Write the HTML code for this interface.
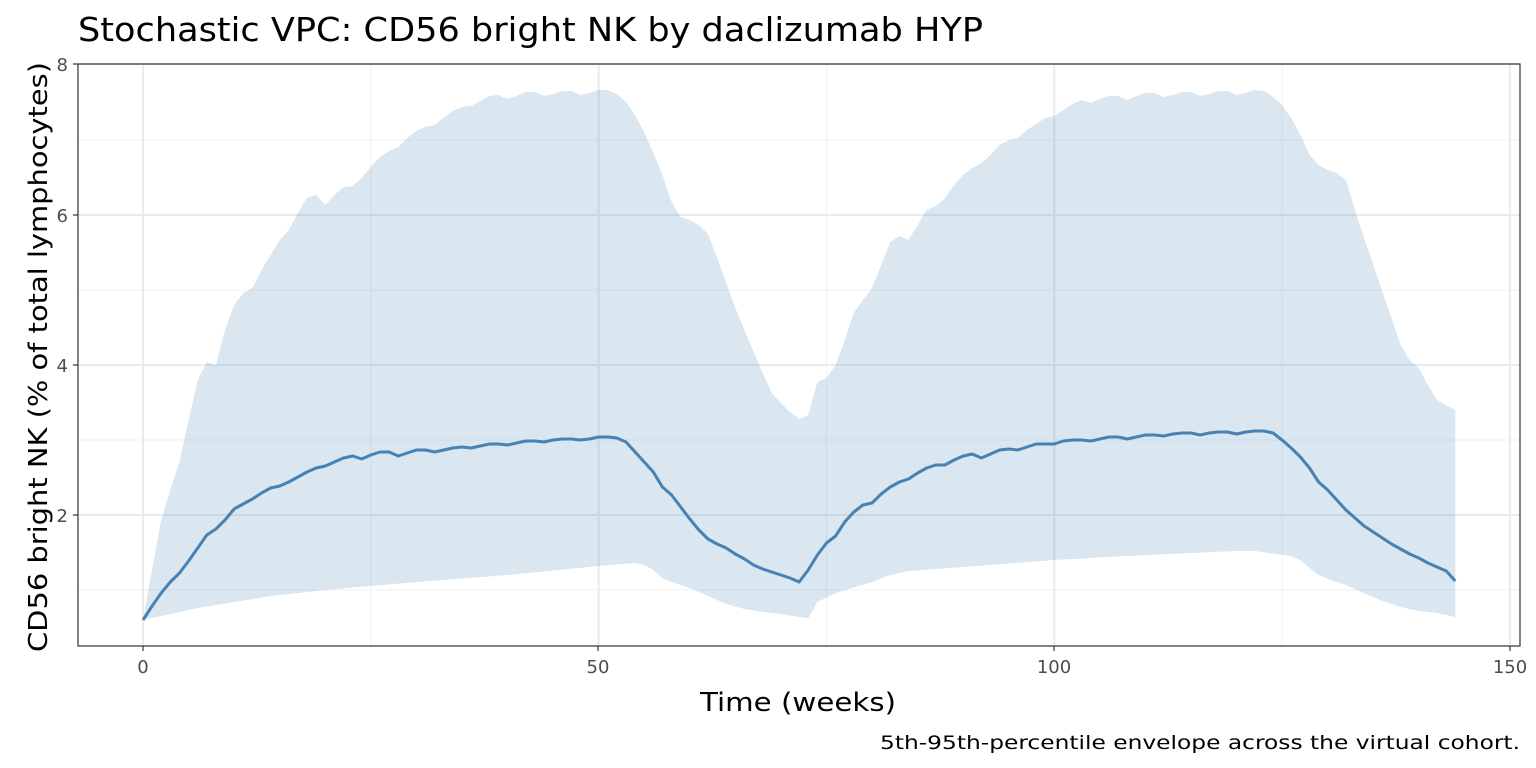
<!DOCTYPE html>
<html><head><meta charset="utf-8"><style>
html,body{margin:0;padding:0;background:#fff;}
svg{display:block;font-family:"DejaVu Sans","Liberation Sans",sans-serif;}
</style></head><body>
<svg id="s" width="1536" height="768" xmlns="http://www.w3.org/2000/svg">
<rect width="1536" height="768" fill="#fff"/>
<g id="grid"></g>
<path id="band" fill="#4682b4" fill-opacity="0.2" stroke="none"/>
<path id="med" fill="none" stroke="#4682b4" stroke-width="3" stroke-linejoin="round"/>
<rect x="78" y="64" width="1442" height="582" fill="none" stroke="#333" stroke-width="1.2"/>
<g fill="#4d4d4d" font-size="18" text-anchor="middle">
<text x="143" y="673">0</text><text x="598" y="673">50</text><text x="1054" y="673">100</text><text x="1510" y="673">150</text>
</g>
<g fill="#4d4d4d" font-size="18" text-anchor="end">
<text x="68" y="71">8</text><text x="68" y="222">6</text><text x="68" y="372">4</text><text x="68" y="522">2</text>
</g>
<g stroke="#333" stroke-width="1.2">
<line x1="143" y1="646" x2="143" y2="651"/><line x1="598" y1="646" x2="598" y2="651"/><line x1="1054" y1="646" x2="1054" y2="651"/><line x1="1510" y1="646" x2="1510" y2="651"/>
<line x1="73" y1="64" x2="78" y2="64"/><line x1="73" y1="215" x2="78" y2="215"/><line x1="73" y1="365" x2="78" y2="365"/><line x1="73" y1="515" x2="78" y2="515"/>
</g>
<text x="700" y="711" font-size="26" fill="#000" textLength="196" lengthAdjust="spacingAndGlyphs">Time (weeks)</text>
<text transform="translate(47,652) rotate(-90)" font-size="26" fill="#000" textLength="590" lengthAdjust="spacingAndGlyphs">CD56 bright NK (% of total lymphocytes)</text>
<text x="78" y="41" font-size="33" fill="#000" textLength="905" lengthAdjust="spacingAndGlyphs">Stochastic VPC: CD56 bright NK by daclizumab HYP</text>
<text x="880" y="749" font-size="19" fill="#000" textLength="640" lengthAdjust="spacingAndGlyphs">5th-95th-percentile envelope across the virtual cohort.</text>
</svg>
<script>
var X=function(w){return 143+w*9.113;};
var g=document.getElementById('grid'),h='';
[25,75,125].forEach(function(w){h+='<line x1="'+X(w)+'" y1="64" x2="'+X(w)+'" y2="646" stroke="#f2f2f2" stroke-width="1"/>';});
[140,290,440,590].forEach(function(y){h+='<line x1="78" y1="'+y+'" x2="1520" y2="'+y+'" stroke="#f2f2f2" stroke-width="1"/>';});
[0,50,100,150].forEach(function(w){h+='<line x1="'+X(w)+'" y1="64" x2="'+X(w)+'" y2="646" stroke="#ebebeb" stroke-width="2"/>';});
[64,215,365,515].forEach(function(y){h+='<line x1="78" y1="'+y+'" x2="1520" y2="'+y+'" stroke="#ebebeb" stroke-width="2"/>';});
g.innerHTML=h;
var up=[[0,620],[2,520],[3,490],[4,462],[5,420],[6,380],[7,362],[8,365],[9,330],[10,305],[11,293],[12,288],[13,270],[14,255],[15,240],[16,230],[17,213],[18,198],[19,195],[20,205],[21,195],[22,187],[23,186],[24,178],[25,167],[26,157],[27,151],[28,147],[29,138],[30,131],[31,127],[32,125],[33,118],[34,111],[35,107],[36,106],[37,101],[38,96],[39,95],[40,99],[41,96],[42,92],[43,92],[44,96],[45,94],[46,91],[47,91],[48,95],[49,93],[50,90],[51,90],[52,94],[53,102],[54,115],[55,132],[56,153],[57,175],[58,202],[59,217],[60,220],[61,225],[62,234],[63,258],[64,283],[65,308],[66,330],[67,352],[68,373],[69,393],[70,403],[71,412],[72,419],[73,415],[74,382],[75,378],[76,365],[77,340],[78,313],[79,300],[80,288],[81,265],[82,242],[83,236],[84,240],[85,225],[86,210],[87,206],[88,198],[89,185],[90,175],[91,168],[92,163],[93,155],[94,145],[95,140],[96,138],[97,130],[98,124],[99,118],[100,116],[101,110],[102,104],[103,100],[104,103],[105,99],[106,96],[107,96],[108,100],[109,96],[110,93],[111,93],[112,97],[113,95],[114,92],[115,92],[116,96],[117,94],[118,91],[119,91],[120,95],[121,93],[122,90],[123,91],[124,97],[125,105],[126,118],[127,135],[128,155],[129,165],[130,170],[131,173],[132,180],[133,210],[134,238],[135,265],[136,292],[137,318],[138,345],[139,360],[140,368],[141,385],[142,400],[143,405],[144,410]];
var lo=[[0,620],[2,616],[4,612],[6,608],[10,602],[14,596],[20,590],[30,582],[40,575],[50,566],[54,563],[55,565],[56,570],[57,578],[58,582],[60,588],[62,596],[64,604],[66,609],[68,612],[70,614],[72,617],[73,618],[74,602],[76,593],[80,582],[82,575],[84,571],[90,567],[100,560],[110,555],[120,551],[122,551],[126,556],[127,560],[128,568],[129,575],[130,579],[132,585],[134,593],[136,601],[138,607],[140,611],[142,613],[144,617]];
var md=[[0,620],[1,606],[2,593],[3,582],[4,573],[5,561],[6,548],[7,535],[8,529],[9,520],[10,509],[11,504],[12,499],[13,493],[14,488],[15,486],[16,482],[17,477],[18,472],[19,468],[20,466],[21,462],[22,458],[23,456],[24,459],[25,455],[26,452],[27,452],[28,456],[29,453],[30,450],[31,450],[32,452],[33,450],[34,448],[35,447],[36,448],[37,446],[38,444],[39,444],[40,445],[41,443],[42,441],[43,441],[44,442],[45,440],[46,439],[47,439],[48,440],[49,439],[50,437],[51,437],[52,438],[53,442],[54,452],[55,462],[56,472],[57,487],[58,495],[59,507],[60,519],[61,530],[62,539],[63,544],[64,548],[65,554],[66,559],[67,565],[68,569],[69,572],[70,575],[71,578],[72,582],[73,570],[74,555],[75,543],[76,536],[77,522],[78,512],[79,505],[80,503],[81,494],[82,487],[83,482],[84,479],[85,473],[86,468],[87,465],[88,465],[89,460],[90,456],[91,454],[92,458],[93,454],[94,450],[95,449],[96,450],[97,447],[98,444],[99,444],[100,444],[101,441],[102,440],[103,440],[104,441],[105,439],[106,437],[107,437],[108,439],[109,437],[110,435],[111,435],[112,436],[113,434],[114,433],[115,433],[116,435],[117,433],[118,432],[119,432],[120,434],[121,432],[122,431],[123,431],[124,433],[125,440],[126,448],[127,457],[128,468],[129,482],[130,490],[131,500],[132,510],[133,518],[134,526],[135,532],[136,538],[137,544],[138,549],[139,554],[140,558],[141,563],[142,567],[143,571],[144,581]];
function pts(a){return a.map(function(p){return X(p[0]).toFixed(1)+','+p[1];});}
document.getElementById('band').setAttribute('d','M'+pts(up).join('L')+'L'+pts(lo.slice().reverse()).join('L')+'Z');
document.getElementById('med').setAttribute('d','M'+pts(md).join('L'));
</script>
</body></html>
